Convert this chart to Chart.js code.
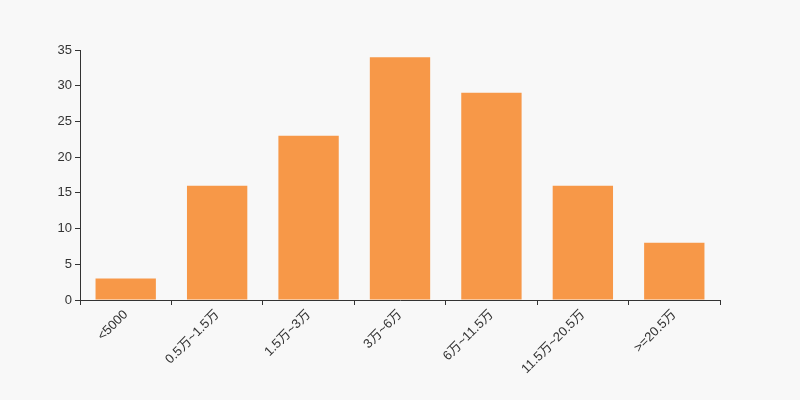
<!DOCTYPE html>
<html>
<head>
<meta charset="utf-8">
<script src="https://cdn.jsdelivr.net/npm/chart.js@4/dist/chart.umd.min.js"></script>
<style>
  html, body { margin: 0; padding: 0; background: #f8f8f8; }
  #wrap { width: 800px; height: 400px; }
</style>
</head>
<body>
<div id="wrap"><canvas id="chart" width="800" height="400"></canvas></div>
<script>
const categories = ['<5000', '0.5万~1.5万', '1.5万~3万', '3万~6万', '6万~11.5万', '11.5万~20.5万', '>=20.5万'];
const counts = [3, 16, 23, 34, 29, 16, 8];
const yTicks = [0, 5, 10, 15, 20, 25, 30, 35];

const fontFamily = "'Liberation Sans', Arial, 'Noto Sans CJK SC', sans-serif";

new Chart(document.getElementById('chart'), {
  type: 'bar',
  data: {
    labels: categories,
    datasets: [{
      data: counts,
      backgroundColor: '#f79848',
      borderWidth: 0,
      barPercentage: 0.66,
      categoryPercentage: 1,
    }],
  },
  options: {
    responsive: false,
    animation: false,
    layout: { padding: { top: 50, right: 80, left: 0, bottom: 0 } },
    plugins: { legend: { display: false }, tooltip: { enabled: false } },
    scales: {
      x: {
        offset: true,
        grid: { offset: true, drawOnChartArea: false, tickLength: 5, color: '#333' },
        border: { color: '#333', width: 1 },
        ticks: {
          color: '#333',
          font: { size: 13, family: fontFamily },
          minRotation: 45,
          maxRotation: 45,
          autoSkip: false,
          padding: 2,
        },
        afterFit(scale) { scale.height = 100; },
      },
      y: {
        min: 0,
        max: 35,
        afterBuildTicks(scale) { scale.ticks = yTicks.map(v => ({ value: v })); },
        grid: { drawOnChartArea: false, tickLength: 5, color: '#333' },
        border: { color: '#333', width: 1 },
        ticks: {
          color: '#333',
          font: { size: 13, family: fontFamily },
          padding: 3,
        },
        afterFit(scale) { scale.width = 80; },
      },
    },
  },
});
</script>
</body>
</html>
